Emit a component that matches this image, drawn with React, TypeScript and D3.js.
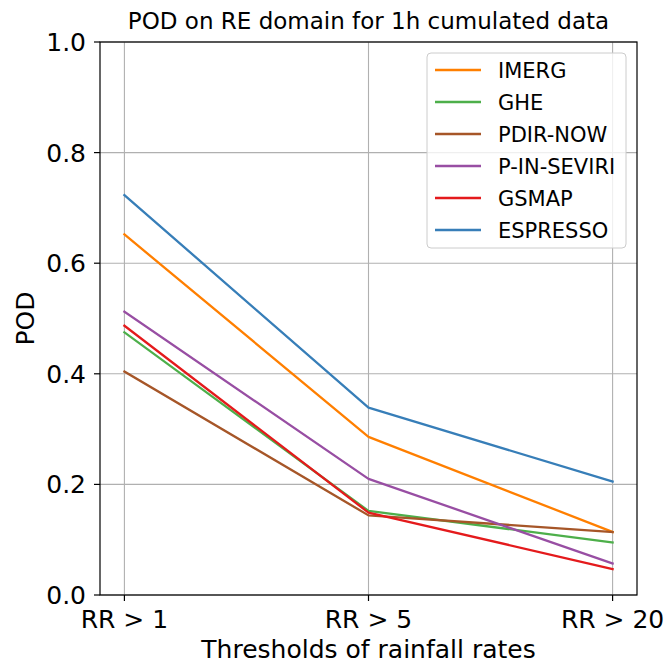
import React from "react";
import * as d3 from "d3";

const categories = ["RR > 1", "RR > 5", "RR > 20"];
const seriesNames = ["IMERG", "GHE", "PDIR-NOW", "P-IN-SEVIRI", "GSMAP", "ESPRESSO"];
const IMERG = [0.652, 0.286, 0.114];
const GHE = [0.475, 0.152, 0.095];
const PDIR_NOW = [0.404, 0.144, 0.114];
const P_IN_SEVIRI = [0.5125, 0.21, 0.057];
const GSMAP = [0.487, 0.149, 0.047];
const ESPRESSO = [0.723, 0.339, 0.205];
const seriesValues = [IMERG, GHE, PDIR_NOW, P_IN_SEVIRI, GSMAP, ESPRESSO];
const colors = ["#ff7f00", "#4daf4a", "#a65628", "#984ea3", "#e41a1c", "#377eb8"];
const yTicks = [0, 0.2, 0.4, 0.6, 0.8, 1.0];

export default function App() {
  const W = 668, H = 666;
  const left = 100, right = 637, top = 42, bottom = 595;
  const x = d3.scaleLinear().domain([-0.1, 2.1]).range([left, right]);
  const y = d3.scaleLinear().domain([0, 1]).range([bottom, top]);
  const line = d3.line<number>().x((_, i) => x(i)).y((v) => y(v));
  const font = "DejaVu Sans, sans-serif";
  const legX = 427, legY = 53, legW = 199, legH = 195;
  return (
    <svg width={W} height={H} style={{ position: "absolute", left: 0, top: 0 }} fontFamily={font}>
      <rect width={W} height={H} fill="white" />
      {categories.map((_, i) => (
        <line key={"gx" + i} x1={x(i)} x2={x(i)} y1={top} y2={bottom} stroke="#b0b0b0" strokeWidth={1.1} />
      ))}
      {yTicks.map((t) => (
        <line key={"gy" + t} x1={left} x2={right} y1={y(t)} y2={y(t)} stroke="#b0b0b0" strokeWidth={1.1} />
      ))}
      {seriesValues.map((vals, k) => (
        <path key={seriesNames[k]} d={line(vals) || ""} fill="none" stroke={colors[k]} strokeWidth={2.3} strokeLinejoin="round" strokeLinecap="square" />
      ))}
      <rect x={left} y={top} width={right - left} height={bottom - top} fill="none" stroke="black" strokeWidth={1.2} />
      {yTicks.map((t) => (
        <g key={"yt" + t}>
          <line x1={left - 6} x2={left} y1={y(t)} y2={y(t)} stroke="black" strokeWidth={1.2} />
          <text x={left - 14} y={y(t)} dy="0.36em" textAnchor="end" fontSize={25}>{t.toFixed(1)}</text>
        </g>
      ))}
      {categories.map((c, i) => (
        <g key={"xt" + i}>
          <line x1={x(i)} x2={x(i)} y1={bottom} y2={bottom + 6} stroke="black" strokeWidth={1.2} />
          <text x={x(i)} y={bottom + 33} textAnchor="middle" fontSize={25}>{c}</text>
        </g>
      ))}
      <text x={(left + right) / 2} y={658} textAnchor="middle" fontSize={25}>Thresholds of rainfall rates</text>
      <text transform={`translate(34,${(top + bottom) / 2}) rotate(-90)`} textAnchor="middle" fontSize={25}>POD</text>
      <text x={(left + right) / 2} y={29} textAnchor="middle" fontSize={23}>POD on RE domain for 1h cumulated data</text>
      <rect x={legX} y={legY} width={legW} height={legH} rx={4} fill="white" fillOpacity={0.8} stroke="#cccccc" strokeWidth={1} />
      {seriesNames.map((n, k) => {
        const yy = 70 + k * 32;
        return (
          <g key={"lg" + n}>
            <line x1={435} x2={481} y1={yy} y2={yy} stroke={colors[k]} strokeWidth={2.3} />
            <text x={498} y={yy} dy="0.36em" fontSize={21}>{n}</text>
          </g>
        );
      })}
    </svg>
  );
}
